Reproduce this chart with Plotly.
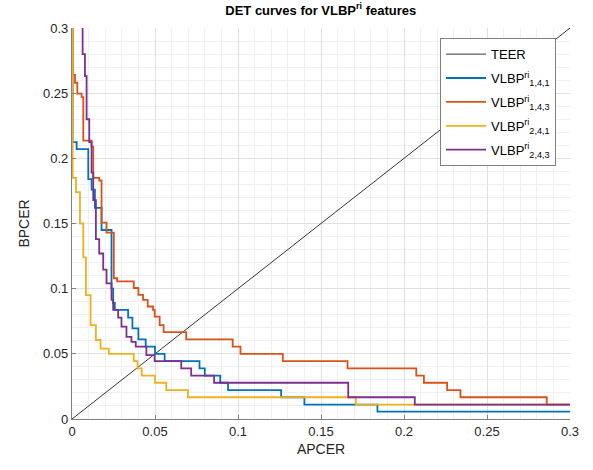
import plotly.graph_objects as go

# ---------------- data ----------------
teer_x = [0.0, 0.3]
teer_y = [0.0, 0.3]

# step curves: (APCER where the BPCER level begins, BPCER level) -> drawn with 'hv'
b141_x = [0.0004, 0.0004, 0.0028, 0.0098, 0.0118, 0.0138, 0.0178, 0.0238, 0.0248, 0.0258, 0.0338,
          0.0364, 0.0400, 0.0444, 0.0500, 0.0558, 0.0768, 0.0800, 0.0893, 0.0940, 0.1260, 0.1400,
          0.1840, 0.3000]
b141_y = [0.31, 0.2125, 0.207, 0.184, 0.176, 0.162, 0.145, 0.100, 0.089, 0.0837, 0.0778,
          0.0696, 0.0611, 0.0556, 0.0500, 0.0444, 0.0389, 0.0333, 0.0278, 0.0222, 0.0167, 0.0111,
          0.0056, 0.0056]

b143_x = [0.0004, 0.0004, 0.0018, 0.0032, 0.0058, 0.0068, 0.0118, 0.0128, 0.0164, 0.0178, 0.0208,
          0.0252, 0.0272, 0.0372, 0.0400, 0.0428, 0.0456, 0.0488, 0.0498, 0.0528, 0.0552, 0.0688,
          0.0968, 0.1015, 0.1270, 0.1660, 0.2074, 0.2120, 0.2260, 0.2340, 0.2860, 0.3000]
b143_y = [0.31, 0.264, 0.258, 0.2496, 0.247, 0.2136, 0.209, 0.185, 0.183, 0.1506, 0.143,
          0.108, 0.1056, 0.1005, 0.0953, 0.0914, 0.0863, 0.0837, 0.0785, 0.0721, 0.0667, 0.0611,
          0.0556, 0.0500, 0.0444, 0.0389, 0.0333, 0.0278, 0.0222, 0.0167, 0.0111, 0.0111]

b241_x = [0.0004, 0.0004, 0.0024, 0.0048, 0.0068, 0.0084, 0.0112, 0.0144, 0.0172, 0.0222, 0.0372,
          0.0395, 0.0420, 0.0500, 0.0568, 0.0698, 0.1710, 0.3000]
b241_y = [0.31, 0.185, 0.174, 0.150, 0.124, 0.095, 0.072, 0.0606, 0.054, 0.0500, 0.0444,
          0.0389, 0.0333, 0.0278, 0.0222, 0.0167, 0.0111, 0.0111]

b243_x = [0.0064, 0.0064, 0.0078, 0.0088, 0.0104, 0.0118, 0.0128, 0.0144, 0.0164, 0.0188, 0.0208,
          0.0238, 0.0248, 0.0278, 0.0298, 0.0328, 0.0358, 0.0384, 0.0448, 0.0498, 0.0658, 0.0718,
          0.0856, 0.1664, 0.2065, 0.3000]
b243_y = [0.31, 0.280, 0.263, 0.230, 0.2124, 0.189, 0.168, 0.138, 0.127, 0.1146, 0.104,
          0.0914, 0.0837, 0.0778, 0.0708, 0.0630, 0.0592, 0.0556, 0.0490, 0.0444, 0.0389, 0.0333,
          0.0278, 0.0167, 0.0111, 0.0111]

names = ["TEER",
         "VLBP<sup>ri</sup><sub>1,4,1</sub>",
         "VLBP<sup>ri</sup><sub>1,4,3</sub>",
         "VLBP<sup>ri</sup><sub>2,4,1</sub>",
         "VLBP<sup>ri</sup><sub>2,4,3</sub>"]
colors = ["#000000", "#0072BD", "#D95319", "#EDB120", "#7E2F8E"]

x_ticks = [0, 0.05, 0.1, 0.15, 0.2, 0.25, 0.3]
y_ticks = [0, 0.05, 0.1, 0.15, 0.2, 0.25, 0.3]

FONT = "Liberation Sans, Arial, Helvetica, sans-serif"

fig = go.Figure()
fig.add_trace(go.Scatter(x=teer_x, y=teer_y, mode="lines", name=names[0], legendgroup="g0",
                         line=dict(color=colors[0], width=0.8)))
for i, (xs, ys, nm, c) in enumerate([(b141_x, b141_y, names[1], colors[1]),
                                     (b143_x, b143_y, names[2], colors[2]),
                                     (b241_x, b241_y, names[3], colors[3]),
                                     (b243_x, b243_y, names[4], colors[4])]):
    fig.add_trace(go.Scatter(x=xs, y=ys, mode="lines", name=nm, legendgroup="g%d" % (i + 1),
                             line=dict(color=c, width=1.8, shape="hv")))

axis_common = dict(
    showgrid=True, gridcolor="#e0e0e0", gridwidth=1,
    minor=dict(dtick=0.01, showgrid=True, gridcolor="#f0f0f0", gridwidth=1,
               ticks=""),
    zeroline=False, showline=True, linecolor="#808080", linewidth=1.2,
    ticks="inside", ticklen=4, tickcolor="#808080",
    tickfont=dict(family=FONT, size=13, color="#262626"),
    mirror=False,
)

fig.update_xaxes(range=[0, 0.3], tickvals=x_ticks, ticktext=[str(v) if v else "0" for v in x_ticks],
                 title=dict(text="APCER", font=dict(family=FONT, size=14, color="#262626"), standoff=6),
                 **axis_common)
fig.update_yaxes(range=[0, 0.3], tickvals=y_ticks, ticktext=[str(v) if v else "0" for v in y_ticks],
                 title=dict(text="BPCER", font=dict(family=FONT, size=14, color="#262626"), standoff=10),
                 **axis_common)

fig.update_layout(
    width=593, height=470,
    margin=dict(l=72, r=23, t=28, b=51),
    paper_bgcolor="white", plot_bgcolor="white",
    title=dict(text="<b>DET curves for VLBP<sup>ri</sup> features</b>", x=0.541, xanchor="center",
               y=0.988, yanchor="top", font=dict(family=FONT, size=13, color="#000000")),
    legend=dict(x=0.972, y=0.974, xanchor="right", yanchor="top",
                bgcolor="white", bordercolor="#808080", borderwidth=1,
                font=dict(family=FONT, size=13, color="#000000"),
                tracegroupgap=4, itemwidth=40),
    showlegend=True,
)

fig.write_html("out.html")
